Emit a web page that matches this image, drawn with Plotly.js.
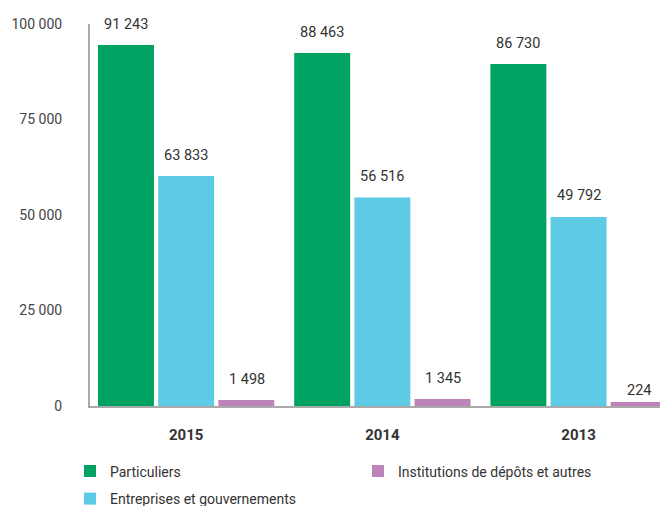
<!DOCTYPE html>
<html>
<head>
<meta charset="utf-8">
<script src="https://cdn.plot.ly/plotly-3.0.1.min.js"></script>
<style>html,body{margin:0;padding:0;background:#fff;}#chart{width:660px;height:506px;}</style>
</head>
<body>
<div id="chart"></div>
<script>
// Data (bar heights; labels as printed)
const years = ['2015', '2014', '2013'];
const seriesNames = ['Particuliers', 'Entreprises et gouvernements', 'Institutions de dépôts et autres'];
const particuliers = [94500, 92400, 89500];
const entreprises = [60200, 54600, 49500];
const institutions = [1570, 1830, 1050];
const labelsParticuliers = ['91 243', '88 463', '86 730'];
const labelsEntreprises = ['63 833', '56 516', '49 792'];
const labelsInstitutions = ['1 498', '1 345', '224'];
const yTickVals = [0, 25000, 50000, 75000, 100000];
const yTickText = ['0', '25 000', '50 000', '75 000', '100 000'];

const colors = ['#00a261', '#5ecae5', '#bf83bb'];
const legendIds = ['legend', 'legend2', 'legend3'];
const values = [particuliers, entreprises, institutions];
const labels = [labelsParticuliers, labelsEntreprises, labelsInstitutions];
const FONT = 'Roboto, "Noto Sans", sans-serif';

const traces = values.map((v, i) => ({
  type: 'bar', x: years, y: v, name: seriesNames[i],
  marker: {color: colors[i], line: {width: 0}},
  legend: legendIds[i], hoverinfo: 'skip'
}));

const slotPx = 60.4;
const annotations = [];
labels.forEach((arr, i) => {
  arr.forEach((t, j) => {
    const small = values[i][j] < 1200;
    annotations.push({
      x: j, y: values[i][j], xref: 'x', yref: 'y',
      text: t, showarrow: false, xanchor: 'center', yanchor: 'middle',
      xshift: (i - 1) * slotPx, yshift: small ? 11 : 21,
      font: {family: FONT, size: 14.5, color: '#333333'}
    });
  });
});

const legendFont = {family: FONT, size: 14, color: '#333333'};
function legendAt(xPx, yPx) {
  return {
    orientation: 'h', xref: 'container', yref: 'container',
    x: xPx / 660, xanchor: 'left', y: 1 - yPx / 506, yanchor: 'middle',
    font: legendFont, itemclick: false, bgcolor: 'rgba(0,0,0,0)'
  };
}

const layout = {
  width: 660, height: 506,
  margin: {l: 90, r: 0, t: 24, b: 100},
  paper_bgcolor: '#ffffff', plot_bgcolor: '#ffffff',
  barmode: 'group', bargap: 0.08, bargroupgap: 0.07,
  showlegend: true,
  legend: legendAt(70, 471.5),
  legend2: legendAt(70, 499),
  legend3: legendAt(358, 471.5),
  xaxis: {
    type: 'category', range: [-0.49, 2.415], showline: true, linecolor: '#a9a9a9', linewidth: 2,
    showgrid: false, zeroline: false, ticks: '', ticklabelstandoff: 14,
    tickfont: {family: FONT, size: 15, color: '#333333', weight: 'bold'}
  },
  yaxis: {
    range: [0, 100000], showline: true, linecolor: '#a9a9a9', linewidth: 2,
    showgrid: false, zeroline: false, ticks: '',
    tickvals: yTickVals, ticktext: yTickText, ticklabelstandoff: 23,
    tickfont: {family: FONT, size: 14, color: '#444444'}
  },
  annotations: annotations
};

Plotly.newPlot('chart', traces, layout, {displayModeBar: false, staticPlot: true});
</script>
</body>
</html>
